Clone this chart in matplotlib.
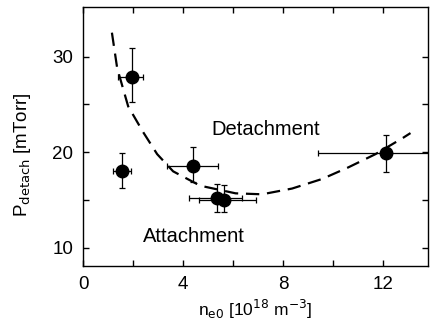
import matplotlib
matplotlib.use("Agg")
import matplotlib.pyplot as plt
import numpy as np

plt.rcParams["font.family"] = ["Liberation Sans", "DejaVu Sans"]

# measured points
n_e0 = [1.55, 1.95, 4.4, 5.35, 5.65, 12.1]
p_detach = [18.0, 27.9, 18.6, 15.2, 15.0, 19.9]
x_err_lo = [0.35, 0.55, 1.05, 1.1, 1.0, 2.7]
x_err_hi = [0.35, 0.45, 1.0, 1.0, 1.25, 2.7]
y_err_lo = [1.7, 2.7, 1.7, 1.4, 1.3, 2.0]
y_err_hi = [1.9, 3.0, 1.9, 1.5, 1.6, 1.9]

# dashed boundary
curve_x = [1.15, 1.36, 1.8, 2.4, 2.96, 3.6, 4.68, 6.1, 7.16, 8.36, 9.56, 10.6, 11.7, 12.8, 13.1]
curve_y = [32.5, 28.8, 24.8, 22.1, 19.8, 18.0, 16.5, 15.7, 15.6, 16.2, 17.2, 18.4, 19.8, 21.5, 22.0]

x_ticks = [0, 4, 8, 12]
y_ticks = [10, 20, 30]

fig = plt.figure(figsize=(4.31, 3.26), dpi=100)
ax = fig.add_axes([0.193, 0.184, 0.800, 0.795])

ax.plot(curve_x, curve_y, color="black", lw=1.6, dashes=(6, 3.5))
ax.errorbar(n_e0, p_detach,
            xerr=[x_err_lo, x_err_hi], yerr=[y_err_lo, y_err_hi],
            fmt="o", color="black", ms=9, elinewidth=0.9,
            capsize=2, capthick=0.9, clip_on=True)

ax.text(7.3, 22.4, "Detachment", fontsize=14.5, ha="center", va="center")
ax.text(4.45, 11.2, "Attachment", fontsize=14.5, ha="center", va="center")

ax.set_xlim(0, 13.8)
ax.set_ylim(8.1, 35.2)
ax.set_xticks(x_ticks)
ax.set_xticks(np.arange(0, 14, 2), minor=True)
ax.set_yticks(y_ticks)
ax.set_yticks([15, 25], minor=True)
ax.tick_params(which="both", direction="in", top=True, right=True,
               labelsize=13.5, length=4, width=1)
ax.tick_params(which="major", pad=7)

ax.set_xlabel(r"n$_{\mathrm{e0}}$ [10$^{18}$ m$^{-3}$]", fontsize=12.5)
ax.set_ylabel(r"P$_{\mathrm{detach}}$ [mTorr]", fontsize=13.5)
ax.yaxis.set_label_coords(-0.145, 0.43)
for s in ax.spines.values():
    s.set_linewidth(1.0)

fig.savefig("out.png", dpi=100)
